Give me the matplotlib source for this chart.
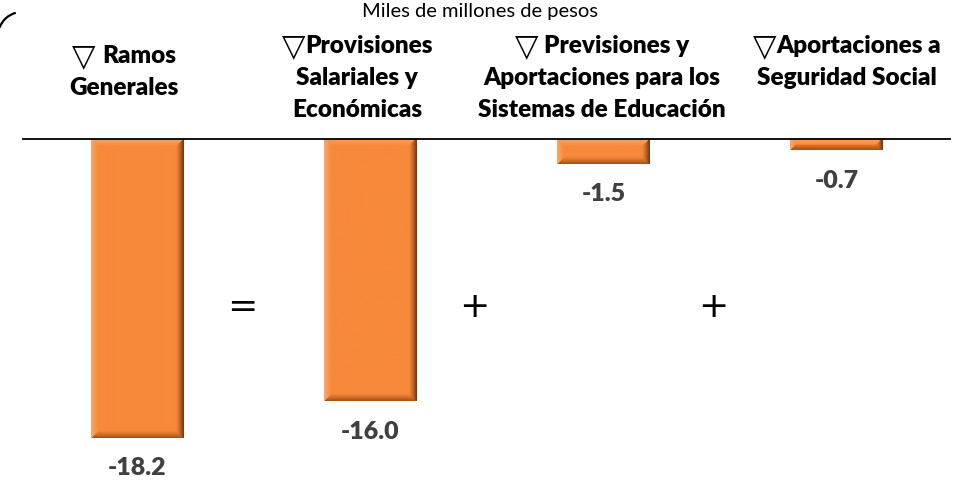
import numpy as np
import matplotlib
matplotlib.use('Agg')
import matplotlib.pyplot as plt
from matplotlib.patches import Arc
from matplotlib.transforms import IdentityTransform

# ---- data ----
categories = ["▽ Ramos\nGenerales",
              "▽Provisiones\nSalariales y\nEconómicas",
              "▽ Previsiones y\nAportaciones para los\nSistemas de Educación",
              "▽Aportaciones a\nSeguridad Social"]
values = [-18.2, -16.0, -1.5, -0.7]
value_labels = ["-18.2", "-16.0", "-1.5", "-0.7"]
operators = ["=", "+", "+"]
title = "Miles de millones de pesos"

W, H, DPI = 959, 480, 100
fig = plt.figure(figsize=(W / DPI, H / DPI), dpi=DPI)
ax = fig.add_axes([0, 0, 1, 1])
ax.set_xlim(-0.590, 3.526)
ax.set_ylim(-20.79, 8.476)
ax.axis('off')

FAM = ['Lato', 'DejaVu Sans']
x = np.arange(len(values))
bw = 0.395
base_col = '#F7883B'
bars = ax.bar(x, values, width=bw, color=base_col, zorder=2)

# baseline
ax.axhline(0, xmin=23 / W, xmax=950 / W, color='black', lw=1.3, zorder=4)

fig.canvas.draw()
renderer = fig.canvas.get_renderer()


def bevel(hp, wp, b=8):
    base = np.array([247, 137, 58]) / 255
    cols = [np.array([252, 170, 105]) / 255,   # left
            np.array([105, 52, 15]) / 255,     # right
            np.array([252, 165, 100]) / 255,   # top
            np.array([160, 78, 25]) / 255]     # bottom
    yy, xx = np.mgrid[0:hp, 0:wp] + 0.5
    d = np.stack([xx, wp - xx, yy, hp - yy])
    idx = d.argmin(0)
    dmin = d.min(0)
    t = np.clip(1 - dmin / b, 0, 1) ** 1.3
    img = np.ones((hp, wp, 3)) * base
    for k in range(4):
        m = idx == k
        img[m] = base * (1 - t[m, None]) + cols[k] * t[m, None]
    return img


for bar in bars:
    bb = bar.get_window_extent()
    wp = max(int(round(bb.width)), 2)
    hp = max(int(round(bb.height)), 2)
    img = bevel(hp, wp)
    x0 = bar.get_x()
    y0 = bar.get_y()
    h = bar.get_height()
    ax.imshow(img, extent=(x0, x0 + bar.get_width(), y0 + h, y0), origin='upper',
              aspect='auto', interpolation='bilinear', zorder=3)

# value labels
for xi, v, lab in zip(x, values, value_labels):
    ax.annotate(lab, (xi, v), xytext=(0, -14), textcoords='offset points',
                ha='center', va='top', fontsize=18, fontweight='heavy',
                color='#404040', family=FAM)

# category labels (line by line, larger outline triangle)
cat_x = [124, 357, 602, 847]
cat_base = [63, 53, 53, 53]
LS = 32
for cx, cb, lab in zip(cat_x, cat_base, categories):
    for j, line in enumerate(lab.split('\n')):
        yb = 1 - (cb + j * LS) / H
        if line.startswith('▽'):
            rest = line[1:]
            gap = 6 if rest.startswith(' ') else 0
            rest = rest.strip()
            t = fig.text(0, yb, rest, ha='left', va='baseline', fontsize=17.5,
                         fontweight='heavy', color='black', family=FAM)
            tri = fig.text(0, yb - 2 / H, '▽', ha='left', va='baseline', fontsize=22,
                           color='black', family=['DejaVu Sans'])
            wr = t.get_window_extent(renderer).width
            wt = tri.get_window_extent(renderer).width
            left = cx - (wt + gap + wr) / 2
            tri.set_x(left / W)
            t.set_x((left + wt + gap) / W)
        else:
            fig.text(cx / W, yb, line, ha='center', va='baseline', fontsize=17.5,
                     fontweight='heavy', color='black', family=FAM)

# operators
op_x = [0.45, 1.445, 2.47]
for ox, op in zip(op_x, operators):
    ax.text(ox, -10.24, op, ha='center', va='center', fontsize=26,
            color='black', family=['DejaVu Sans'])

fig.text(480 / W, 1 - 12 / H, title, ha='center', va='center', fontsize=14.5,
         color='black', family=FAM)

# decorative corner arc
fig.add_artist(Arc((22, 444), 48, 48, theta1=105, theta2=160, lw=1.6,
                   color='black', transform=IdentityTransform()))

fig.savefig('out.png', dpi=DPI)
